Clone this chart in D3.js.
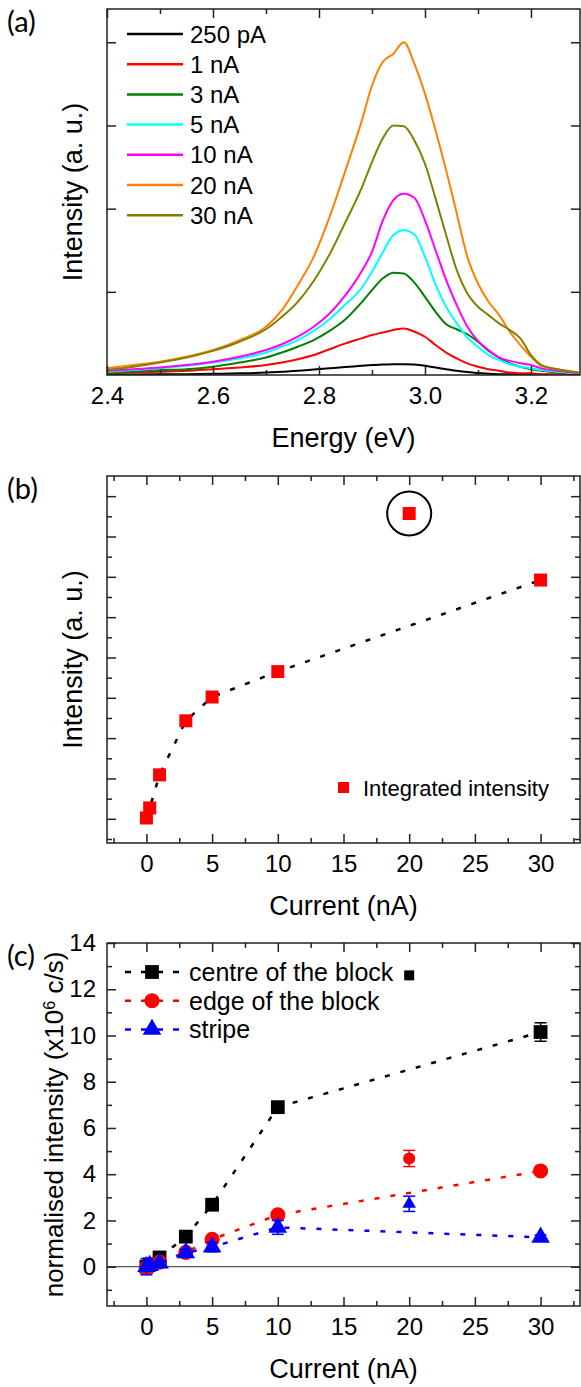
<!DOCTYPE html>
<html>
<head>
<meta charset="utf-8">
<script src="https://cdn.jsdelivr.net/npm/d3@7"></script>
<style>
  body { margin: 0; background: #fff; }
  text { font-family: "Liberation Sans", Arial, sans-serif; fill: #000; }
  .tick text { font-family: "Liberation Sans", Arial, sans-serif; font-size: 24px; fill: #000; }
  .plabel { font-family: Lato, "Open Sans", sans-serif; font-size: 29px; }
</style>
</head>
<body>
<script>
// ---------- (a) spectra ----------
var energy    = [2.40,2.45,2.50,2.55,2.60,2.65,2.70,2.73,2.76,2.79,2.82,2.85,2.88,2.90,2.92,2.94,2.96,2.98,3.00,3.02,3.04,3.06,3.08,3.10,3.12,3.14,3.16,3.18,3.20,3.22,3.25,3.29];
var spec250pA = [0.005,0.006,0.008,0.01,0.015,0.02,0.03,0.04,0.05,0.065,0.08,0.095,0.11,0.12,0.125,0.13,0.13,0.125,0.11,0.09,0.07,0.05,0.035,0.025,0.015,0.01,0.008,0.005,0.004,0.003,0.002,0.001];
var spec1nA   = [0.02,0.03,0.04,0.05,0.07,0.09,0.12,0.15,0.19,0.24,0.31,0.38,0.44,0.48,0.51,0.54,0.56,0.52,0.46,0.36,0.27,0.20,0.14,0.10,0.07,0.05,0.03,0.02,0.02,0.01,0.01,0.01];
var spec3nA   = [0.03,0.04,0.06,0.07,0.10,0.15,0.21,0.27,0.34,0.42,0.53,0.67,0.87,1.02,1.16,1.23,1.22,1.11,0.94,0.76,0.61,0.55,0.49,0.40,0.29,0.21,0.14,0.10,0.07,0.05,0.03,0.02];
var spec5nA   = [0.04,0.06,0.08,0.11,0.15,0.20,0.27,0.34,0.42,0.53,0.67,0.85,1.04,1.24,1.47,1.68,1.74,1.69,1.42,1.09,0.82,0.62,0.45,0.34,0.24,0.18,0.13,0.10,0.08,0.06,0.04,0.02];
var spec10nA  = [0.05,0.07,0.09,0.12,0.16,0.22,0.30,0.37,0.46,0.58,0.74,0.96,1.24,1.48,1.85,2.10,2.18,2.13,1.86,1.50,1.14,0.84,0.58,0.41,0.30,0.21,0.17,0.14,0.12,0.08,0.05,0.02];
var spec20nA  = [0.08,0.12,0.16,0.22,0.30,0.42,0.58,0.78,1.08,1.42,1.90,2.46,3.04,3.48,3.76,3.86,4.00,3.74,3.38,2.94,2.46,1.94,1.42,1.10,0.88,0.72,0.52,0.36,0.22,0.11,0.07,0.03];
var spec30nA  = [0.06,0.10,0.15,0.21,0.29,0.40,0.55,0.70,0.88,1.13,1.45,1.84,2.24,2.56,2.84,3.00,2.99,2.82,2.54,2.12,1.68,1.26,0.98,0.82,0.72,0.62,0.54,0.44,0.24,0.12,0.07,0.03];
var specNames = ["250 pA","1 nA","3 nA","5 nA","10 nA","20 nA","30 nA"];
var energyTicks = [2.4,2.6,2.8,3.0,3.2];

// ---------- (b) integrated intensity ----------
var currentB   = [0, 0.25, 1, 3, 5, 10, 20, 30];
var integrated = [0.02, 0.27, 1.09, 2.43, 3.02, 3.65, 7.57, 5.92];
var outlierB   = [20];

// ---------- (c) normalised intensity (x10^6 c/s) ----------
var currentC  = [0, 0.25, 1, 3, 5, 10, 20, 30];
var centre    = [0.0, 0.1, 0.4, 1.3, 2.68, 6.9, 12.6, 10.15];
var centreErr = [0.1, 0.1, 0.1, 0.1, 0.1, 0.15, 0, 0.4];
var edge      = [-0.05, 0.05, 0.2, 0.62, 1.18, 2.24, 4.68, 4.14];
var edgeErr   = [0.1, 0.1, 0.1, 0.15, 0.15, 0.15, 0.35, 0.15];
var stripe    = [0.0, 0.05, 0.15, 0.6, 0.85, 1.7, 2.72, 1.27];
var stripeErr = [0.35, 0.1, 0.1, 0.15, 0.2, 0.3, 0.33, 0.1];
var outlierC  = [20];
var seriesNames = ["centre of the block", "edge of the block", "stripe"];
var currentTicks = [0,5,10,15,20,25,30];

//SETTING UP THE CANVAS
var w = 581, h = 1387;
var left = 107, right = 580;
var svg = d3.select("body").append("svg")
  .attr("width", w)
  .attr("height", h)
  .style("background-color", "white");

var specColors = ["#000000","#ff0000","#008000","#00ffff","#ff00ff","#ff8000","#808000"];
var cColors = ["#000000","#ff0000","#0000ff"];

// box with inward ticks on all four sides
function frame(x, y, o) {
  var g = svg.append("g");
  var yb = y.range()[0], yt = y.range()[1];
  function style(sel) {
    sel.select(".domain").remove();
    sel.selectAll("line").attr("stroke", "#222").attr("stroke-width", 1.5);
    sel.attr("font-size", null).attr("font-family", null);
  }
  g.append("g").attr("transform", "translate(0," + yb + ")")
    .call(d3.axisBottom(x).tickValues(o.xMajor).tickSize(-9).tickPadding(12).tickFormat(o.xFmt)).call(style);
  g.append("g").attr("transform", "translate(0," + yb + ")")
    .call(d3.axisBottom(x).tickValues(o.xMinor).tickSize(-5).tickFormat("")).call(style);
  g.append("g").attr("transform", "translate(0," + yt + ")")
    .call(d3.axisTop(x).tickValues(o.xMajor).tickSize(-9).tickFormat("")).call(style);
  g.append("g").attr("transform", "translate(0," + yt + ")")
    .call(d3.axisTop(x).tickValues(o.xMinor).tickSize(-5).tickFormat("")).call(style);
  g.append("g").attr("transform", "translate(" + left + ",0)")
    .call(d3.axisLeft(y).tickValues(o.yMajor).tickSize(-9).tickPadding(11).tickFormat(o.yFmt || "")).call(style);
  g.append("g").attr("transform", "translate(" + right + ",0)")
    .call(d3.axisRight(y).tickValues(o.yMajor).tickSize(-9).tickFormat("")).call(style);
  if (o.yMinor) {
    g.append("g").attr("transform", "translate(" + left + ",0)")
      .call(d3.axisLeft(y).tickValues(o.yMinor).tickSize(-5).tickFormat("")).call(style);
    g.append("g").attr("transform", "translate(" + right + ",0)")
      .call(d3.axisRight(y).tickValues(o.yMinor).tickSize(-5).tickFormat("")).call(style);
  }
  g.append("rect")
    .attr("x", left).attr("y", yt)
    .attr("width", right - left).attr("height", yb - yt)
    .attr("fill", "none").attr("stroke", "#222").attr("stroke-width", 1.5);
  // titles
  svg.append("text").attr("x", (left + right) / 2).attr("y", yb + 72)
    .attr("text-anchor", "middle").attr("font-size", 27).text(o.xTitle);
  var yt2 = svg.append("text")
    .attr("transform", "translate(" + o.yTitleX + "," + (yb + yt) / 2 + ") rotate(-90)")
    .attr("text-anchor", "middle").attr("font-size", o.yTitleSize || 27);
  o.yTitle(yt2);
  svg.append("text").attr("class", "plabel").attr("x", 7).attr("y", yt + 23).text(o.label);
}

function range(a, b, s) { return d3.range(a, b + s / 2, s); }

// ================= (a) =================
var xA = d3.scaleLinear().domain([2.4, 3.2925]).range([left, right]);
var yA = d3.scaleLinear().domain([0, 4.4]).range([375, 9]);

svg.append("clipPath").attr("id", "clipA").append("rect")
  .attr("x", left).attr("y", 9).attr("width", right - left).attr("height", 366);

var spectra = [spec250pA, spec1nA, spec3nA, spec5nA, spec10nA, spec20nA, spec30nA];
var lineA = d3.line().x(function(d){ return xA(d[0]); }).y(function(d){ return yA(d[1]); }).curve(d3.curveMonotoneX);
svg.append("g").attr("clip-path", "url(#clipA)")
  .selectAll("path").data(spectra).join("path")
  .attr("d", function(s){ return lineA(energy.map(function(e, i){ return [e, s[i]]; })); })
  .attr("fill", "none")
  .attr("stroke", function(d, i){ return specColors[i]; })
  .attr("stroke-width", 2);

frame(xA, yA, {
  xMajor: energyTicks, xMinor: range(2.5, 3.3, 0.2), xFmt: d3.format(".1f"),
  yMajor: [1, 2, 3, 4],
  xTitle: "Energy (eV)", yTitleX: 82,
  yTitle: function(t){ t.text("Intensity (a. u.)"); },
  label: "(a)"
});

var legA = svg.append("g").selectAll("g").data(specNames).join("g")
  .attr("transform", function(d, i){ return "translate(0," + (34 + 30.2 * i) + ")"; });
legA.append("line").attr("x1", 127).attr("x2", 183)
  .attr("stroke", function(d, i){ return specColors[i]; }).attr("stroke-width", 2.5);
legA.append("text").attr("x", 190).attr("dy", "0.36em").attr("font-size", 24).text(function(d){ return d; });

// ================= (b) =================
var xB = d3.scaleLinear().domain([-3, 33]).range([left, right]);
var yB = d3.scaleLinear().domain([-0.6, 8.5]).range([843, 476]);

var ptsB = currentB.map(function(c, i){ return {x: c, y: integrated[i]}; });
var fitB = ptsB.filter(function(d){ return outlierB.indexOf(d.x) < 0; });
svg.append("path")
  .attr("d", d3.line().x(function(d){ return xB(d.x); }).y(function(d){ return yB(d.y); })(fitB))
  .attr("fill", "none").attr("stroke", "#000").attr("stroke-width", 2.5)
  .attr("stroke-dasharray", "5,11");

svg.selectAll(".sqB").data(ptsB).join("rect").attr("class", "sqB")
  .attr("x", function(d){ return xB(d.x) - 6.5; })
  .attr("y", function(d){ return yB(d.y) - 6.5; })
  .attr("width", 13).attr("height", 13).attr("fill", "#ff0000");

ptsB.filter(function(d){ return outlierB.indexOf(d.x) >= 0; }).forEach(function(d){
  svg.append("circle").attr("cx", xB(d.x)).attr("cy", yB(d.y)).attr("r", 22)
    .attr("fill", "none").attr("stroke", "#000").attr("stroke-width", 2);
});

frame(xB, yB, {
  xMajor: currentTicks, xMinor: range(-2.5, 32.5, 5), xFmt: d3.format("d"),
  yMajor: range(0, 8, 1), yMinor: range(-0.5, 7.5, 1),
  xTitle: "Current (nA)", yTitleX: 82,
  yTitle: function(t){ t.text("Intensity (a. u.)"); },
  label: "(b)"
});

svg.append("rect").attr("x", 338).attr("y", 782).attr("width", 11).attr("height", 11).attr("fill", "#ff0000");
svg.append("text").attr("x", 363).attr("y", 788).attr("dy", "0.36em").attr("font-size", 22).text("Integrated intensity");

// ================= (c) =================
var xC = d3.scaleLinear().domain([-3, 33]).range([left, right]);
var yC = d3.scaleLinear().domain([-1.7, 14]).range([1306, 943]);

svg.append("line").attr("x1", left).attr("x2", right).attr("y1", yC(0)).attr("y2", yC(0))
  .attr("stroke", "#555").attr("stroke-width", 1.3);

var seriesC = [
  {v: centre, e: centreErr, sym: d3.symbolSquare, big: 190, small: 100},
  {v: edge,   e: edgeErr,   sym: d3.symbolCircle, big: 180, small: 115},
  {v: stripe, e: stripeErr, sym: d3.symbolTriangle, big: 150, small: 80}
];

seriesC.forEach(function(s, k){
  var pts = currentC.map(function(c, i){ return {x: c, y: s.v[i], e: s.e[i], out: outlierC.indexOf(c) >= 0}; });
  var g = svg.append("g");
  g.append("path")
    .attr("d", d3.line().x(function(d){ return xC(d.x); }).y(function(d){ return yC(d.y); })(pts.filter(function(d){ return !d.out; })))
    .attr("fill", "none").attr("stroke", cColors[k]).attr("stroke-width", 2.5)
    .attr("stroke-dasharray", "5,11");
  var eb = g.selectAll(".eb").data(pts.filter(function(d){ return d.e > 0; })).join("g");
  eb.append("line")
    .attr("x1", function(d){ return xC(d.x); }).attr("x2", function(d){ return xC(d.x); })
    .attr("y1", function(d){ return yC(d.y - d.e); }).attr("y2", function(d){ return yC(d.y + d.e); })
    .attr("stroke", cColors[k]).attr("stroke-width", 1.5);
  [-1, 1].forEach(function(sg){
    eb.append("line")
      .attr("x1", function(d){ return xC(d.x) - 6; }).attr("x2", function(d){ return xC(d.x) + 6; })
      .attr("y1", function(d){ return yC(d.y + sg * d.e); }).attr("y2", function(d){ return yC(d.y + sg * d.e); })
      .attr("stroke", cColors[k]).attr("stroke-width", 1.5);
  });
  g.selectAll(".m").data(pts).join("path")
    .attr("transform", function(d){ return "translate(" + xC(d.x) + "," + yC(d.y) + ")"; })
    .attr("d", function(d){ return d3.symbol().type(s.sym).size(d.out ? s.small : s.big)(); })
    .attr("fill", cColors[k]);
});

frame(xC, yC, {
  xMajor: currentTicks, xMinor: range(-2.5, 32.5, 5), xFmt: d3.format("d"),
  yMajor: range(0, 14, 2), yMinor: range(-1, 13, 2), yFmt: d3.format("d"),
  xTitle: "Current (nA)", yTitleX: 63, yTitleSize: 26,
  yTitle: function(t){
    t.append("tspan").text("normalised intensity (x10");
    t.append("tspan").attr("baseline-shift", "super").attr("font-size", 16).text("6");
    t.append("tspan").text(" c/s)");
  },
  label: "(c)"
});

var legC = svg.append("g").selectAll("g").data(seriesNames).join("g")
  .attr("transform", function(d, i){ return "translate(0," + (972 + 28.7 * i) + ")"; });
legC.append("line").attr("x1", 125).attr("x2", 182)
  .attr("stroke", function(d, i){ return cColors[i]; }).attr("stroke-width", 2.5)
  .attr("stroke-dasharray", "6,10");
legC.append("path").attr("transform", "translate(152,0)")
  .attr("d", function(d, i){ return d3.symbol().type(seriesC[i].sym).size(seriesC[i].big)(); })
  .attr("fill", function(d, i){ return cColors[i]; });
legC.append("text").attr("x", 189).attr("dy", "0.36em").attr("font-size", 25).text(function(d){ return d; });
</script>
</body>
</html>
